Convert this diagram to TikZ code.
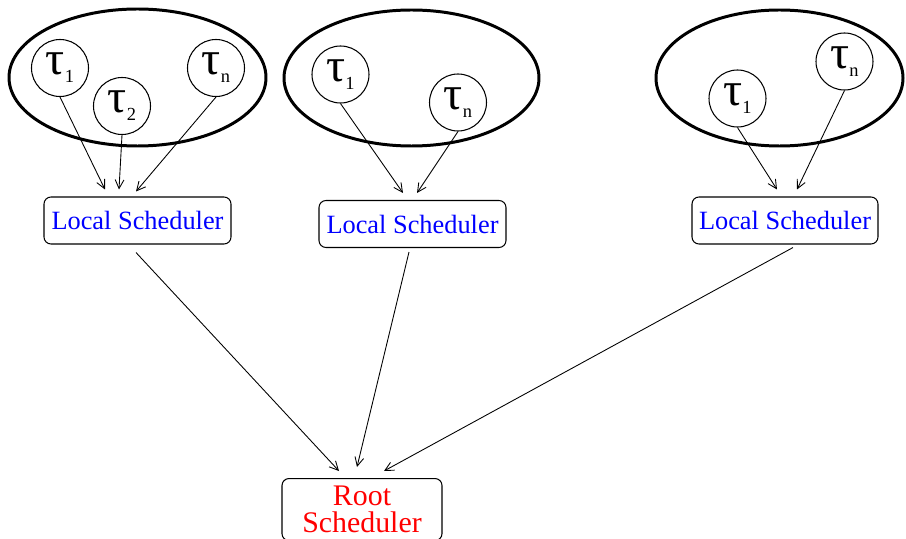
\documentclass[tikz,border=0pt]{standalone}
\usepackage{fontspec}
\setmainfont{Liberation Serif}
\usetikzlibrary{arrows.meta}

\newcommand{\TSK}[1]{%
	{\fontsize{27}{27}\selectfont τ}\raisebox{-4.5pt}{\fontsize{10.5}{10.5}\selectfont #1}%
}
\tikzset{
	task/.style={
		draw,
		circle,
		line width=0.6pt,
		inner sep=0pt,
		minimum size=1.14cm
	},
	sched/.style={
		draw,
		rounded corners=4pt,
		line width=0.6pt,
		minimum width=3.74cm,
		minimum height=0.94cm,
		text=blue,
		font=\fontsize{15}{17}\selectfont
	},
	cluster/.style={line width=1.7pt}
}

\begin{document}
\begin{tikzpicture}[
	link/.style={-{Straight Barb[length=5pt,width=5pt]},line width=0.5pt}
]
\useasboundingbox (0,0) rectangle (18.12,10.76);

% task sets
\draw[cluster] (2.75,9.21) ellipse (2.57 and 1.37);
\draw[cluster] (8.23,9.20) ellipse (2.55 and 1.36);
\draw[cluster] (15.59,9.20) ellipse (2.47 and 1.36);

\node[task] (t11) at (1.20,9.40) {\TSK{1}};
\node[task] (t12) at (2.44,8.64) {\TSK{2}};
\node[task] (t1n) at (4.32,9.40) {\TSK{n}};

\node[task] (t21) at (6.81,9.27) {\TSK{1}};
\node[task] (t2n) at (9.16,8.71) {\TSK{n}};

\node[task] (t31) at (14.75,8.79) {\TSK{1}};
\node[task] (t3n) at (16.89,9.53) {\TSK{n}};

% schedulers
\node[sched] (ls1) at (2.75,6.35) {Local Scheduler};
\node[sched] (ls2) at (8.25,6.28) {Local Scheduler};
\node[sched,minimum width=3.72cm] (ls3) at (15.70,6.35) {Local Scheduler};

\node[sched,anchor=north,text=red,align=center,minimum width=3.2cm,
	inner ysep=0.15cm,font=\fontsize{17}{15.5}\selectfont] (root) at (7.24,1.20) {Root\\Scheduler};

\draw[link] (t11.south) -- ([shift={(-0.65,0.14)}]ls1.north);
\draw[link] (t12.south) -- ([shift={(-0.37,0.14)}]ls1.north);
\draw[link] (t1n.south) -- ([shift={(-0.03,0.10)}]ls1.north);
\draw[link] (t21.south) -- ([shift={(-0.19,0.14)}]ls2.north);
\draw[link] (t2n.south) -- ([shift={(0.09,0.14)}]ls2.north);
\draw[link] (t31.south) -- ([shift={(-0.16,0.14)}]ls3.north);
\draw[link] (t3n.south) -- ([shift={(0.24,0.14)}]ls3.north);

\draw[link] ([shift={(-0.03,-0.16)}]ls1.south) -- ([shift={(-0.46,0.14)}]root.north);
\draw[link] ([shift={(-0.07,-0.08)}]ls2.south) -- ([shift={(-0.10,0.22)}]root.north);
\draw[link] ([shift={(0.16,-0.06)}]ls3.south) -- ([shift={(0.44,0.14)}]root.north);

\end{tikzpicture}
\end{document}
